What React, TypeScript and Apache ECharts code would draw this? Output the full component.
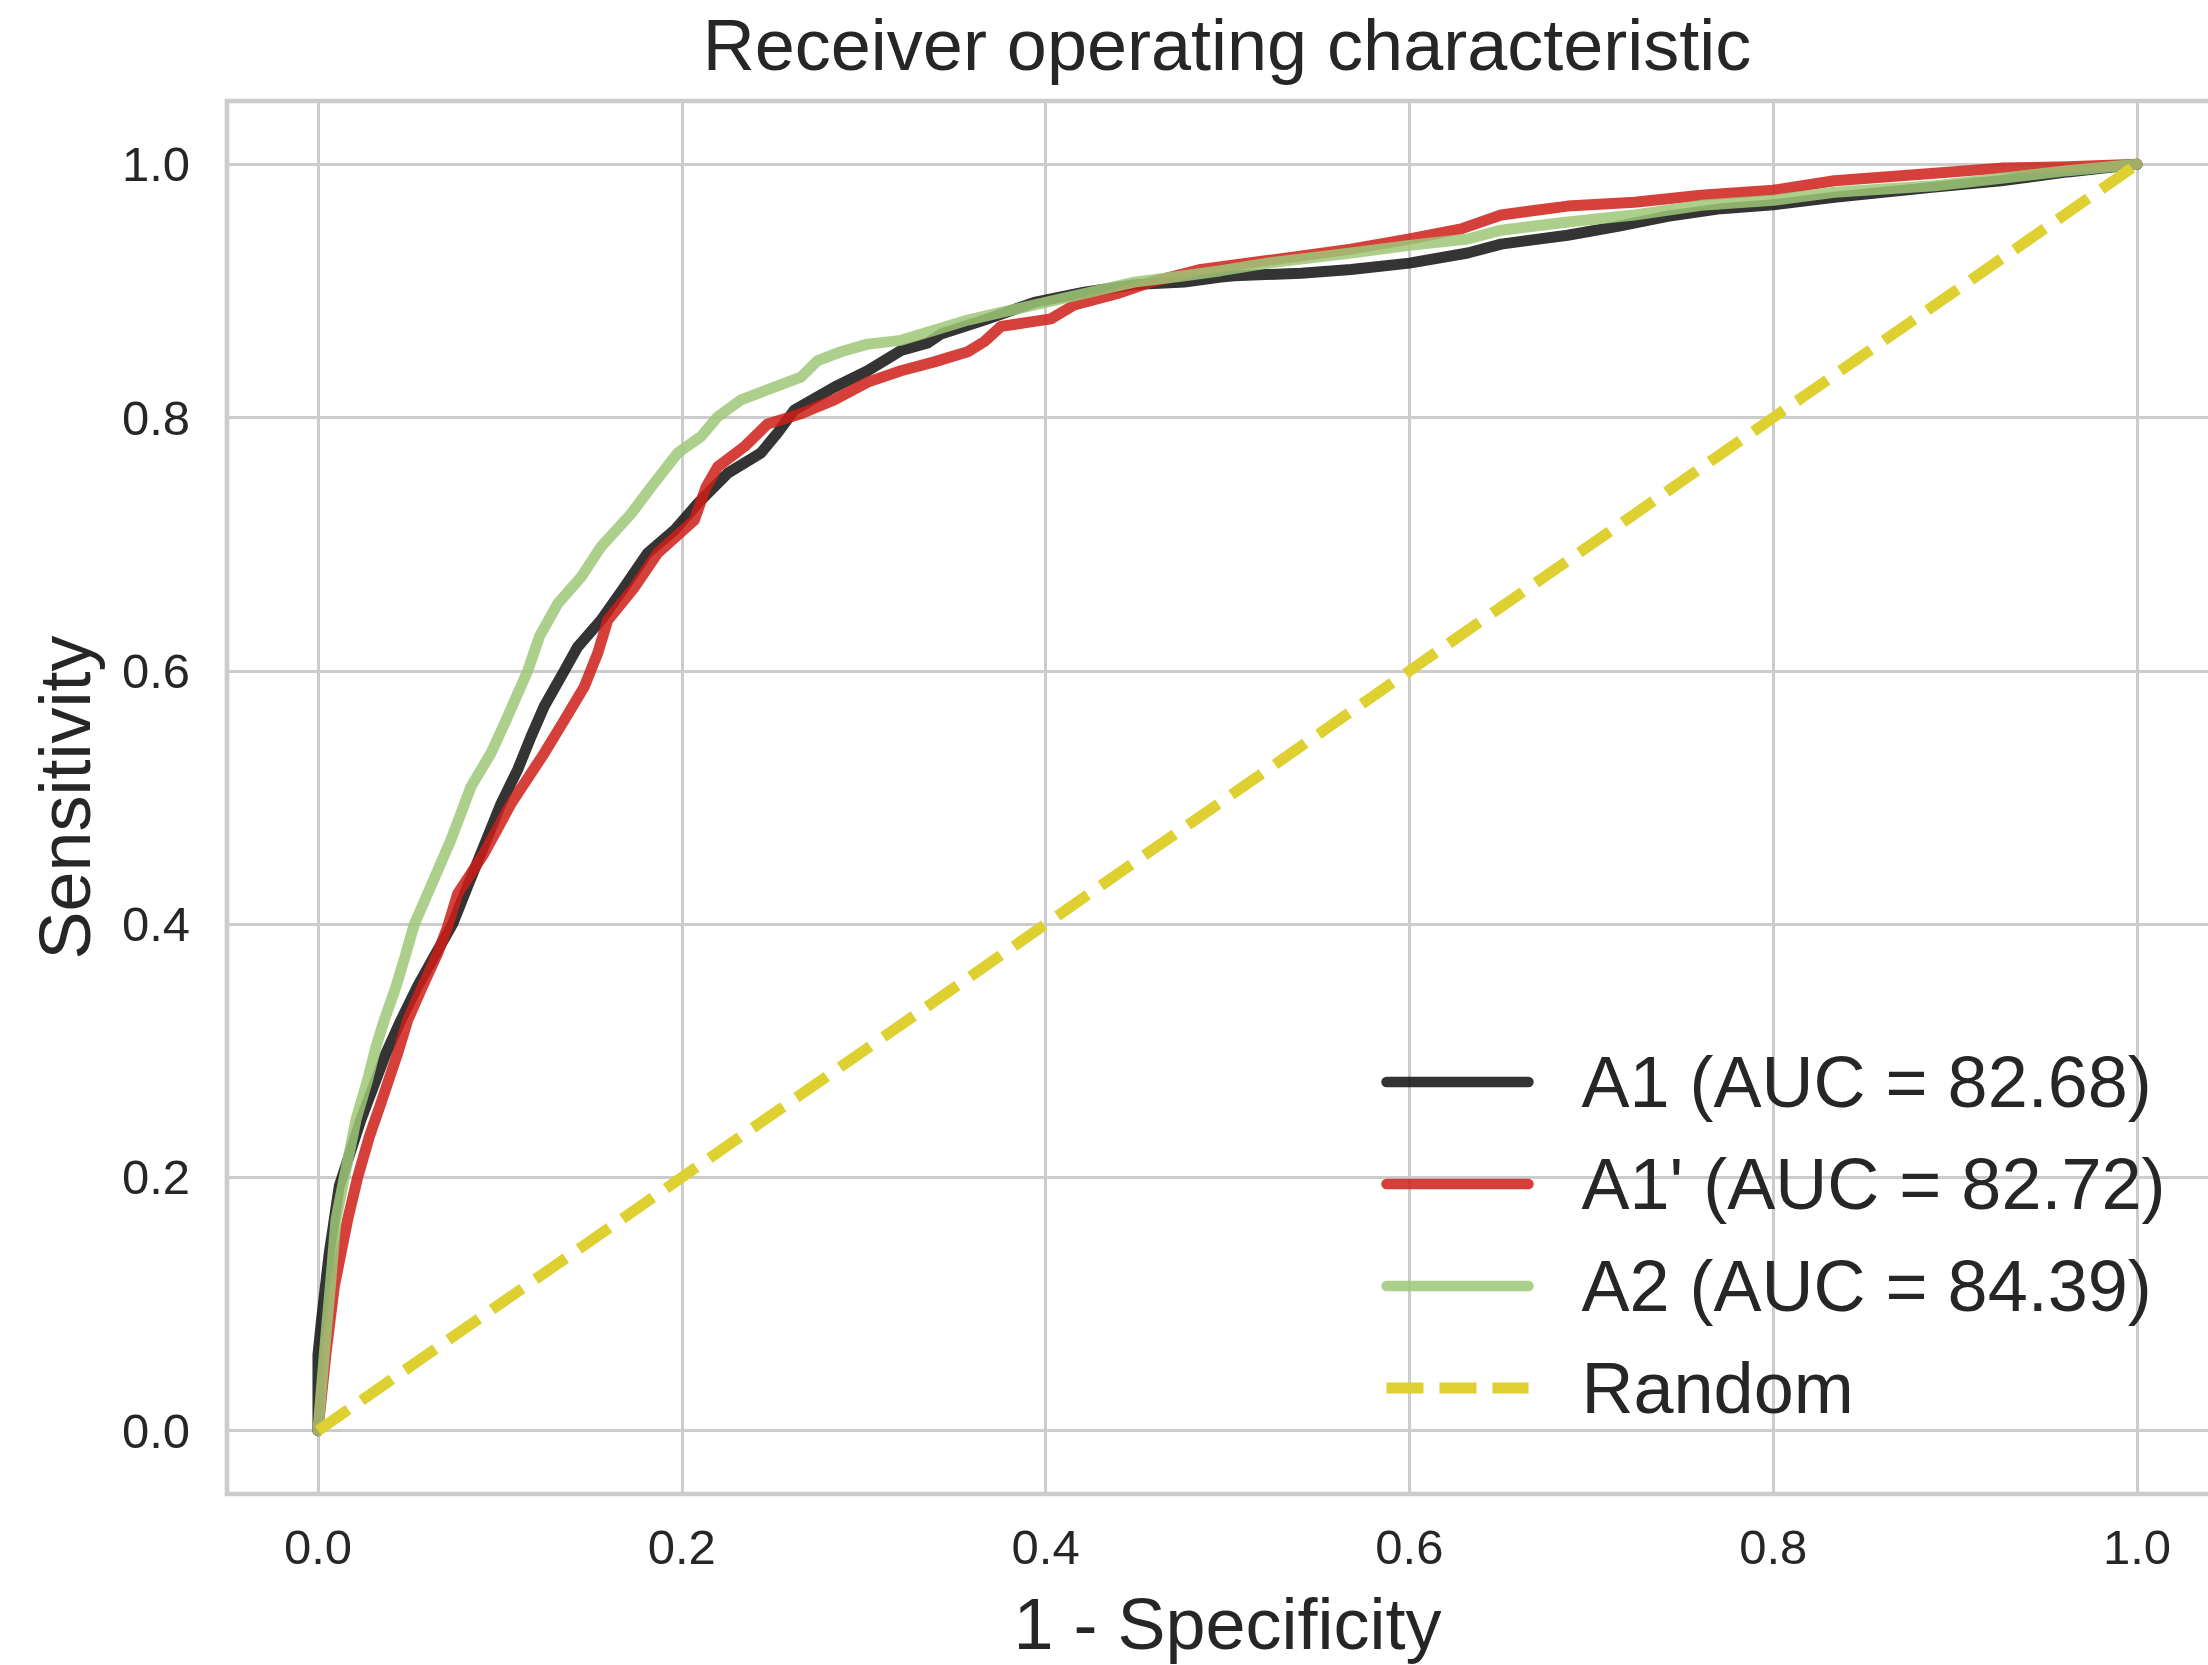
import React, { useEffect, useRef } from "react";
import * as echarts from "echarts";

const FONT = "Liberation Sans";
const TEXT_COLOR = "#262626";

const TITLE = "Receiver operating characteristic";
const X_NAME = "1 - Specificity";
const Y_NAME = "Sensitivity";
const TICKS = [0, 0.2, 0.4, 0.6, 0.8, 1.0];

const SERIES_NAMES = ["A1 (AUC = 82.68)", "A1' (AUC = 82.72)", "A2 (AUC = 84.39)", "Random"];

const A1: number[][] = [
  [0, 0], [0, 0.06], [0.002, 0.088], [0.0062, 0.14], [0.0117, 0.193], [0.0236, 0.2455],
  [0.0319, 0.277], [0.0374, 0.298], [0.0456, 0.324], [0.0548, 0.351], [0.0649, 0.377],
  [0.074, 0.4], [0.0823, 0.43], [0.0933, 0.469], [0.1006, 0.495], [0.1098, 0.522],
  [0.1171, 0.548], [0.1244, 0.572], [0.1354, 0.6], [0.1428, 0.619], [0.1556, 0.64],
  [0.1684, 0.666], [0.1812, 0.693], [0.1959, 0.711], [0.2087, 0.732], [0.2252, 0.756],
  [0.2435, 0.772], [0.2527, 0.788], [0.2619, 0.806], [0.2838, 0.824], [0.3022, 0.837],
  [0.3205, 0.853], [0.3352, 0.859], [0.3425, 0.866], [0.3663, 0.877], [0.3938, 0.891],
  [0.4213, 0.899], [0.4488, 0.905], [0.4763, 0.907], [0.4964, 0.911], [0.5037, 0.912],
  [0.5404, 0.914], [0.5679, 0.917], [0.6, 0.922], [0.6321, 0.93], [0.6504, 0.937],
  [0.687, 0.944], [0.7145, 0.951], [0.742, 0.959], [0.7713, 0.965], [0.8, 0.968],
  [0.8336, 0.974], [0.8886, 0.982], [0.9252, 0.987], [0.9619, 0.994], [1, 1],
];

const A1P: number[][] = [
  [0, 0], [0.0044, 0.061], [0.009, 0.114], [0.0163, 0.1665], [0.0218, 0.2], [0.0282, 0.232],
  [0.0346, 0.2586], [0.0438, 0.298], [0.0493, 0.324], [0.0575, 0.351], [0.0658, 0.377],
  [0.0713, 0.398], [0.0768, 0.424], [0.0914, 0.456], [0.1061, 0.495], [0.1244, 0.535],
  [0.1354, 0.561], [0.1464, 0.5875], [0.1538, 0.614], [0.1593, 0.64], [0.174, 0.666],
  [0.1867, 0.693], [0.2069, 0.719], [0.2133, 0.745], [0.2197, 0.761], [0.2344, 0.777],
  [0.2472, 0.795], [0.2655, 0.803], [0.2838, 0.814], [0.3022, 0.828], [0.3205, 0.837],
  [0.3388, 0.844], [0.3572, 0.852], [0.3663, 0.86], [0.3755, 0.872], [0.3938, 0.876],
  [0.403, 0.878], [0.4158, 0.889], [0.4396, 0.898], [0.458, 0.907], [0.4854, 0.917],
  [0.522, 0.924], [0.5679, 0.933], [0.6, 0.941], [0.6284, 0.949], [0.6504, 0.96],
  [0.687, 0.967], [0.7237, 0.97], [0.7603, 0.9755], [0.8, 0.9795], [0.8336, 0.987],
  [0.8886, 0.993], [0.9252, 0.997], [0.9619, 0.998], [1, 1],
];

const A2: number[][] = [
  [0, 0], [0.0035, 0.061], [0.0068, 0.114], [0.0099, 0.1665], [0.0145, 0.2], [0.0209, 0.2455],
  [0.0273, 0.277], [0.0319, 0.303], [0.0364, 0.324], [0.043, 0.351], [0.0484, 0.377],
  [0.053, 0.4], [0.0621, 0.43], [0.0731, 0.4665], [0.0841, 0.5085], [0.0951, 0.535],
  [0.1034, 0.561], [0.1153, 0.6], [0.1217, 0.627], [0.1318, 0.653], [0.1446, 0.674],
  [0.1556, 0.698], [0.1721, 0.724], [0.1831, 0.745], [0.1977, 0.772], [0.2106, 0.785],
  [0.2197, 0.8006], [0.2325, 0.814], [0.2472, 0.822], [0.2655, 0.832], [0.2747, 0.845],
  [0.2875, 0.852], [0.3022, 0.858], [0.3205, 0.861], [0.3388, 0.869], [0.3572, 0.877],
  [0.3755, 0.883], [0.4, 0.891], [0.4213, 0.898], [0.4488, 0.907], [0.4763, 0.912],
  [0.4964, 0.916], [0.522, 0.922], [0.5679, 0.93], [0.6, 0.936], [0.6321, 0.941],
  [0.6504, 0.948], [0.687, 0.9545], [0.7237, 0.96], [0.7603, 0.9676], [0.8, 0.9716],
  [0.8336, 0.978], [0.8886, 0.983], [0.9252, 0.989], [0.9619, 0.995], [1, 1],
];

const RANDOM: number[][] = [
  [0, 0], [1, 1],
];

const COLORS = ["#111111", "#cf1f17", "#9ec878", "#ddd030"];

const CHART_W = 2240;
const CHART_H = 1665;

export default function App() {
  const ref = useRef<HTMLDivElement>(null);

  useEffect(() => {
    if (!ref.current) return;
    document.body.style.margin = "0";
    document.body.style.overflow = "hidden";
    document.documentElement.style.overflow = "hidden";
    const chart = echarts.init(ref.current, null, { renderer: "svg" });

    const curve = (name: string, data: number[][], color: string) => ({
      name,
      type: "line",
      data,
      symbol: "none",
      showSymbol: false,
      smooth: false,
      color,
      lineStyle: { color, width: 11, opacity: 0.85, cap: "round", join: "round" },
      emphasis: { disabled: true },
      silent: true,
    });

    const axisCommon = {
      type: "value",
      min: -0.05,
      max: 1.05,
      axisLine: { show: false },
      axisTick: { show: false, customValues: TICKS },
      splitLine: { show: true, lineStyle: { color: "#cccccc", width: 3 } },
      nameLocation: "middle",
      nameTextStyle: { fontSize: 72, color: TEXT_COLOR, fontFamily: FONT },
    };

    const legendLine = (name: string, color: string, dashed: boolean) => ({
      name,
      lineStyle: dashed
        ? { color, width: 11, type: [37, 16], cap: "butt", opacity: 1 }
        : { color, width: 10.5, type: "solid", cap: "round", opacity: 0.85 },
    });

    chart.setOption({
      animation: false,
      backgroundColor: "#ffffff",
      title: {
        text: TITLE,
        left: 1227,
        top: 9,
        textAlign: "center",
        padding: 0,
        textStyle: { fontSize: 72, fontWeight: "normal", color: TEXT_COLOR, fontFamily: FONT },
      },
      grid: {
        left: 227,
        top: 101,
        right: CHART_W - 2228,
        bottom: CHART_H - 1494,
        show: true,
        borderColor: "#cccccc",
        borderWidth: 4.7,
        backgroundColor: "transparent",
        containLabel: false,
      },
      xAxis: {
        ...axisCommon,
        name: X_NAME,
        nameGap: 94,
        axisLabel: {
          customValues: TICKS,
          formatter: (v: number) => v.toFixed(1),
          fontSize: 49,
          color: TEXT_COLOR,
          fontFamily: FONT,
          margin: 28,
        },
      },
      yAxis: {
        ...axisCommon,
        name: Y_NAME,
        nameGap: 126,
        axisLabel: {
          customValues: TICKS,
          formatter: (v: number) => v.toFixed(1),
          fontSize: 49,
          color: TEXT_COLOR,
          fontFamily: FONT,
          margin: 37,
        },
      },
      legend: {
        orient: "vertical",
        left: 1381,
        top: 1042,
        padding: 0,
        itemWidth: 142,
        itemHeight: 20,
        itemGap: 22,
        selectedMode: false,
        itemStyle: { opacity: 0 },
        textStyle: {
          fontSize: 72,
          color: TEXT_COLOR,
          fontFamily: FONT,
          lineHeight: 80,
          padding: [0, 0, 0, 48],
        },
        data: [
          legendLine(SERIES_NAMES[0], COLORS[0], false),
          legendLine(SERIES_NAMES[1], COLORS[1], false),
          legendLine(SERIES_NAMES[2], COLORS[2], false),
          legendLine(SERIES_NAMES[3], COLORS[3], true),
        ],
      },
      series: [
        curve(SERIES_NAMES[0], A1, COLORS[0]),
        curve(SERIES_NAMES[1], A1P, COLORS[1]),
        curve(SERIES_NAMES[2], A2, COLORS[2]),
        {
          name: SERIES_NAMES[3],
          type: "line",
          data: RANDOM,
          symbol: "none",
          showSymbol: false,
          color: COLORS[3],
          lineStyle: { color: COLORS[3], width: 11, type: [37, 16], cap: "butt" },
          emphasis: { disabled: true },
          silent: true,
        },
      ],
    });

    return () => chart.dispose();
  }, []);

  return (
    <div
      ref={ref}
      style={{ position: "absolute", left: 0, top: 0, width: CHART_W, height: CHART_H }}
    />
  );
}
